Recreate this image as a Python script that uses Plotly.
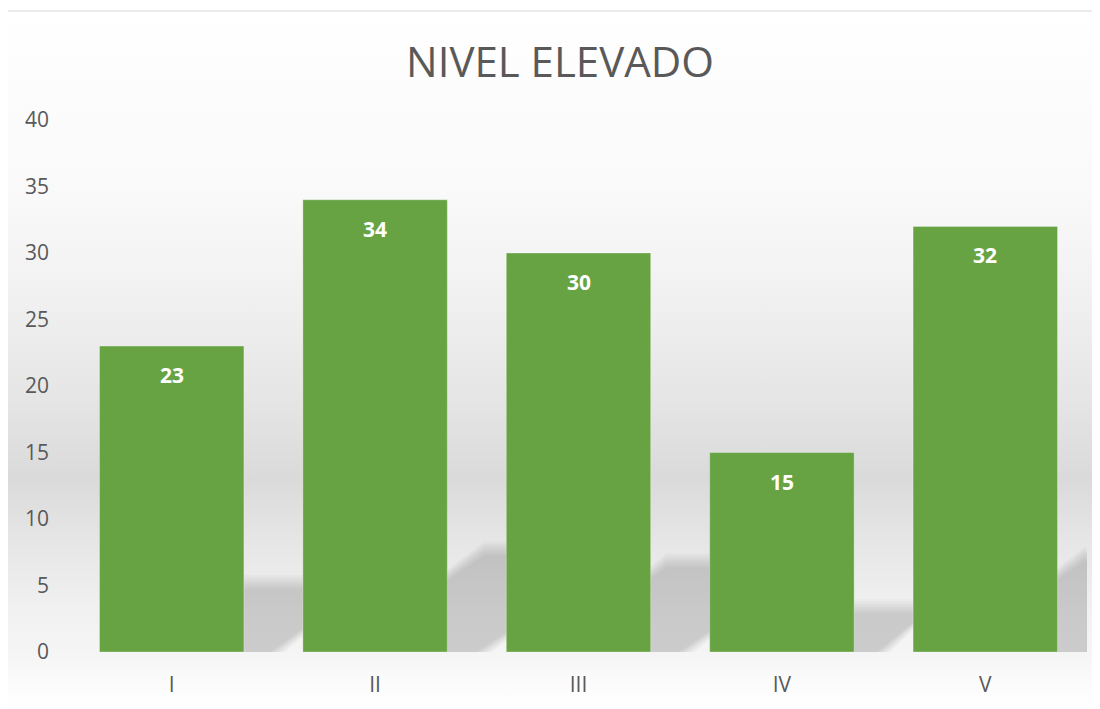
import base64
import plotly.graph_objects as go

# datos del grafico
categorias = ["I", "II", "III", "IV", "V"]
valores = [23, 34, 30, 15, 32]
titulo = "NIVEL ELEVADO"
y_ticks = [0, 5, 10, 15, 20, 25, 30, 35, 40]

# the page body adds 8px around the figure, so sizes are 8px smaller
OFF = 8
W, H = 1100 - OFF, 709 - OFF
ML, MR, MT, MB = 70 - OFF, 13, 120 - OFF, 57
PW = W - ML - MR
PH = H - MT - MB
Y_MAX = 40
BARGAP = 0.29

PX_X = PW / len(categorias)   # pixels per category
PX_Y = PH / Y_MAX             # pixels per unit


def fondo_svg():
    """vertical grey gradient of the chart area, as an svg data uri"""
    stops = [(0.0, "#ffffff"), (0.27, "#f9f9f9"), (0.42, "#f0f0f0"),
             (0.56, "#e5e5e5"), (0.67, "#dadada"), (0.76, "#e6e6e6"),
             (0.86, "#f1f1f1"), (0.92, "#f5f5f5"), (0.96, "#fbfbfb"),
             (1.0, "#ffffff")]
    st = "".join(f"<stop offset='{o}' stop-color='{c}'/>" for o, c in stops)
    svg = ("<svg xmlns='http://www.w3.org/2000/svg' width='100' height='100' "
           "preserveAspectRatio='none'><defs><linearGradient id='g' x1='0' y1='0' "
           f"x2='0' y2='1'>{st}</linearGradient></defs>"
           "<rect width='100' height='100' fill='url(#g)'/></svg>")
    return "data:image/svg+xml;base64," + base64.b64encode(svg.encode()).decode()


def sombras(valores):
    """soft skewed shadows behind each bar (several layers to fake a blur)"""
    shapes = []
    half = (1 - BARGAP) / 2
    capas = 7
    blur = 7
    for i, v in enumerate(valores):
        h_px = 3.05 * v
        s_px = 1.75 * h_px
        for k in range(capas):
            e = blur * (1 - 2 * k / (capas - 1))
            x0 = i - half
            x1 = i + half + e * 1.4 / PX_X
            s = s_px / PX_X
            top = (h_px + e) / PX_Y
            path = (f"M {x0},-2 L {x1},-2 L {x1 + s},{top} "
                    f"L {x0 + s},{top} Z")
            shapes.append(dict(type="path", path=path, xref="x", yref="y",
                               fillcolor="rgba(0,0,0,0.025)", line_width=0,
                               layer="below"))
    return shapes


fig = go.Figure()
fig.add_trace(go.Bar(
    x=categorias, y=valores,
    marker=dict(color="#68a343", line=dict(color="rgba(255,255,255,0.3)", width=1)),
    hoverinfo="x+y"))

for c, v in zip(categorias, valores):
    fig.add_annotation(x=c, y=v, yshift=-29, text=f"<b>{v}</b>", showarrow=False,
                       font=dict(family="Open Sans", size=21, color="white"))

shapes = sombras(valores)
shapes.append(dict(type="rect", xref="paper", yref="paper",
                   x0=(7 - OFF - ML) / PW, x1=(W + 5 - ML) / PW,
                   y0=(-5 - MB) / PH, y1=(H - (11 - OFF) - MB) / PH,
                   line=dict(color="#d9d9d9", width=1), fillcolor="rgba(0,0,0,0)",
                   layer="below"))

fig.update_layout(
    width=W, height=H,
    margin=dict(l=ML, r=MR, t=MT, b=MB),
    paper_bgcolor="white", plot_bgcolor="rgba(0,0,0,0)",
    title=dict(text=titulo, x=(560 - OFF) / W, xanchor="center",
               y=1 - (62 - OFF) / H, yanchor="middle",
               xref="container", yref="container",
               font=dict(family="Open Sans", size=42, color="#595959")),
    font=dict(family="Open Sans", color="#595959"),
    bargap=BARGAP,
    showlegend=False,
    shapes=shapes,
    images=[dict(source=fondo_svg(), xref="paper", yref="paper",
                 x=(7 - OFF - ML) / PW, y=(H - (11 - OFF) - MB) / PH,
                 sizex=(W + OFF - 7) / PW, sizey=(H + OFF - 11) / PH,
                 xanchor="left", yanchor="top", sizing="stretch", layer="below")],
)
fig.update_xaxes(range=[-0.5, len(categorias) - 0.5], showgrid=False,
                 zeroline=False, showline=False,
                 tickfont=dict(size=21, color="#595959"), ticklabelstandoff=18)
fig.update_yaxes(range=[0, Y_MAX], tickvals=y_ticks, showgrid=False,
                 zeroline=False, showline=False,
                 tickfont=dict(size=21, color="#595959"), ticklabelstandoff=20)

fig.write_html("out.html")
